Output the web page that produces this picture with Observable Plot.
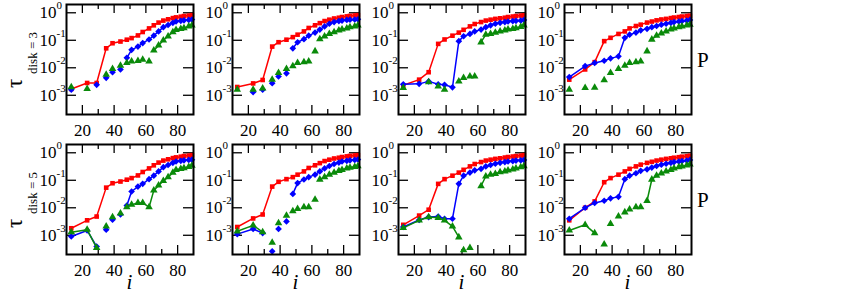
<!DOCTYPE html>
<html><head><meta charset="utf-8">
<script src="https://cdn.jsdelivr.net/npm/d3@7"></script>
<script src="https://cdn.jsdelivr.net/npm/@observablehq/plot@0.6"></script>
<style>
body{margin:0;background:#fff}
#chart{position:relative;width:863px;height:304px;overflow:hidden;font-family:"Liberation Serif",serif}
#chart svg{position:absolute}
</style>
</head><body><div id="chart"></div>
<script>
// ---- data ----
const iValues = [13, 23, 29, 35, 39, 44, 48, 51, 55, 58, 62, 65, 68, 71, 74, 77, 79, 82, 84, 87, 89];
const xTickValues = [20, 40, 60, 80];
const xMinorTickValues = [30, 50, 70];
const yTickValues = [1, 0.1, 0.01, 0.001];
const yTickExponents = ["0", "-1", "-2", "-3"];
const rowSubscripts = ["disk = 3", "disk = 5"];
const sideLabel = "P";
const xLabel = "i";

// row 1 (disk = 3)
const red1 = [1.7e-3, 2.8e-3, 2.8e-3, 0.051, 0.078, 0.09, 0.105, 0.12, 0.15, 0.2, 0.27, 0.35, 0.44, 0.52, 0.58, 0.64, 0.68, 0.72, 0.76, 0.79, 0.82];
const blue1 = [1.6e-3, null, 2.4e-3, 4.3e-3, 6.9e-3, 8.7e-3, 0.023, 0.045, 0.059, 0.079, 0.107, 0.147, 0.21, 0.3, 0.36, 0.43, 0.48, 0.51, 0.53, 0.55, 0.57];
const green1 = [2e-3, 1.7e-3, null, 5.7e-3, 9.1e-3, 0.012, 0.015, 0.017, 0.018, 0.02, 0.017, 0.043, 0.065, 0.1, 0.14, 0.2, 0.24, 0.26, 0.28, 0.32, 0.35];
const red1Runs = [[13, 89]], blue1Runs = [[48, 89]], green1Runs = [[65, 89]];

const red2 = [2e-3, 2.7e-3, 3.6e-3, 0.059, 0.085, 0.105, 0.13, 0.16, 0.21, 0.28, 0.35, 0.42, 0.5, 0.56, 0.62, 0.66, 0.7, 0.74, 0.77, 0.8, 0.82];
const blue2 = [null, 1.3e-3, 1.6e-3, 2.75e-3, 4.8e-3, 6.3e-3, 0.051, 0.085, 0.11, 0.147, 0.19, 0.245, 0.32, 0.4, 0.46, 0.5, 0.52, 0.55, 0.56, 0.57, 0.58];
const green2 = [1.6e-3, 1.6e-3, 1.8e-3, 3.7e-3, 6.6e-3, 9.1e-3, 0.0115, 0.015, 0.016, 0.017, 0.04, 0.11, 0.14, 0.17, 0.2, 0.23, 0.25, 0.27, 0.3, 0.32, 0.35];
const red2Runs = [[13, 89]], blue2Runs = [[48, 89]], green2Runs = [[65, 89]];

const red3 = [2.3e-3, 3.7e-3, 6.9e-3, 0.074, 0.107, 0.147, 0.19, 0.24, 0.32, 0.39, 0.46, 0.52, 0.56, 0.6, 0.63, 0.66, 0.7, 0.73, 0.76, 0.79, 0.81];
const blue3 = [2.5e-3, 2.6e-3, 3.2e-3, 2.5e-3, 2.4e-3, 1.95e-3, 0.093, 0.14, 0.17, 0.21, 0.245, 0.3, 0.35, 0.4, 0.43, 0.46, 0.48, 0.5, 0.51, 0.52, 0.55];
const green3 = [1.85e-3, null, 3e-3, 2.1e-3, 1.6e-3, null, 3.2e-3, 4.3e-3, 4.9e-3, 4.9e-3, 0.085, 0.16, 0.17, 0.19, 0.21, 0.23, 0.25, 0.26, 0.28, 0.31, 0.35];
const red3Runs = [[13, 89]], blue3Runs = [[13, 89]], green3Runs = [[62, 89]];

const red4 = [3.7e-3, 8.7e-3, 0.016, 0.093, 0.123, 0.17, 0.21, 0.27, 0.33, 0.37, 0.44, 0.48, 0.53, 0.57, 0.6, 0.64, 0.67, 0.7, 0.73, 0.76, 0.78];
const blue4 = [4.6e-3, 0.0115, 0.015, 0.018, 0.022, 0.026, 0.123, 0.16, 0.19, 0.23, 0.26, 0.3, 0.33, 0.37, 0.4, 0.43, 0.46, 0.48, 0.5, 0.52, 0.55];
const green4 = [1.6e-3, 1.85e-3, 1.9e-3, 3.6e-3, 6.6e-3, 9.1e-3, 0.012, 0.015, 0.016, 0.017, 0.04, 0.107, 0.147, 0.18, 0.21, 0.25, 0.27, 0.3, 0.32, 0.35, 0.37];
const red4Runs = [[13, 89]], blue4Runs = [[13, 89]], green4Runs = [[65, 89]];

// row 2 (disk = 5)
const red5 = [1.8e-3, 3.5e-3, 4.8e-3, 0.054, 0.078, 0.09, 0.105, 0.12, 0.15, 0.2, 0.27, 0.35, 0.44, 0.52, 0.58, 0.64, 0.68, 0.72, 0.76, 0.79, 0.82];
const blue5 = [9e-4, 1.5e-3, 3.9e-4, 1.6e-3, 3.7e-3, 5.7e-3, 0.012, 0.039, 0.059, 0.074, 0.11, 0.147, 0.21, 0.3, 0.36, 0.43, 0.48, 0.51, 0.53, 0.55, 0.56];
const green5 = [1.3e-3, 1.6e-3, 3.5e-4, 2.1e-3, 4.6e-3, 6.3e-3, 0.0105, 0.013, 0.015, 0.015, 0.0105, 0.043, 0.065, 0.095, 0.13, 0.19, 0.24, 0.26, 0.28, 0.31, 0.34];
const red5Runs = [[13, 89]], blue5Runs = [[13, 29], [48, 89]], green5Runs = [[13, 29], [48, 89]];

const red6 = [2e-3, 4.1e-3, 5.7e-3, 0.059, 0.088, 0.11, 0.13, 0.16, 0.21, 0.28, 0.35, 0.42, 0.5, 0.56, 0.62, 0.66, 0.7, 0.74, 0.77, 0.8, 0.82];
const blue6 = [1.1e-3, 1.7e-3, 1.2e-3, 2.6e-4, 1.7e-3, 3.2e-3, 0.032, 0.079, 0.107, 0.13, 0.16, 0.21, 0.27, 0.33, 0.39, 0.44, 0.48, 0.51, 0.53, 0.55, 0.57];
const green6 = [1.4e-3, 2.3e-3, 1.3e-3, 5.4e-4, 2.8e-3, 5.2e-3, 7.6e-3, 9.1e-3, 0.0105, 0.0105, 0.02, 0.107, 0.13, 0.16, 0.19, 0.22, 0.24, 0.27, 0.29, 0.31, 0.33];
const red6Runs = [[13, 89]], blue6Runs = [[13, 29], [48, 89]], green6Runs = [[13, 29], [65, 89]];

const red7 = [2.4e-3, 5.2e-3, 8.5e-3, 0.074, 0.11, 0.147, 0.19, 0.24, 0.32, 0.39, 0.46, 0.52, 0.56, 0.6, 0.63, 0.67, 0.7, 0.73, 0.76, 0.79, 0.82];
const blue7 = [2e-3, 3.6e-3, 4.6e-3, 4.8e-3, 4e-3, 4e-3, 0.074, 0.147, 0.19, 0.23, 0.26, 0.32, 0.36, 0.4, 0.43, 0.46, 0.48, 0.5, 0.52, 0.53, 0.55];
const green7 = [1.85e-3, 3.5e-3, 4.6e-3, 4.3e-3, 3.5e-3, 2.1e-3, 8.5e-4, 2.9e-4, 3.5e-4, null, 0.062, 0.14, 0.16, 0.17, 0.2, 0.21, 0.23, 0.25, 0.27, 0.3, 0.33];
const red7Runs = [[13, 89]], blue7Runs = [[13, 89]], green7Runs = [[13, 48], [62, 89]];

const red8 = [3.5e-3, 0.01, 0.017, 0.085, 0.12, 0.16, 0.21, 0.26, 0.32, 0.37, 0.43, 0.47, 0.52, 0.56, 0.6, 0.63, 0.66, 0.69, 0.72, 0.75, 0.78];
const blue8 = [4e-3, 0.01, 0.015, 0.018, 0.022, 0.025, 0.11, 0.147, 0.18, 0.22, 0.25, 0.29, 0.33, 0.37, 0.4, 0.43, 0.46, 0.48, 0.5, 0.52, 0.55];
const green8 = [1.5e-3, 2.4e-3, 1.2e-3, 4.7e-4, 2.6e-3, 4.9e-3, 6.9e-3, 8.7e-3, 0.0105, 0.0105, 0.018, 0.107, 0.147, 0.18, 0.21, 0.24, 0.27, 0.3, 0.32, 0.35, 0.38];
const red8Runs = [[13, 89]], blue8Runs = [[13, 89]], green8Runs = [[13, 29], [62, 89]];

// ---- panel table built from the arrays ----
const panels = [
  {row: 0, col: 0, red: red1, blue: blue1, green: green1, redRuns: red1Runs, blueRuns: blue1Runs, greenRuns: green1Runs},
  {row: 0, col: 1, red: red2, blue: blue2, green: green2, redRuns: red2Runs, blueRuns: blue2Runs, greenRuns: green2Runs},
  {row: 0, col: 2, red: red3, blue: blue3, green: green3, redRuns: red3Runs, blueRuns: blue3Runs, greenRuns: green3Runs},
  {row: 0, col: 3, red: red4, blue: blue4, green: green4, redRuns: red4Runs, blueRuns: blue4Runs, greenRuns: green4Runs},
  {row: 1, col: 0, red: red5, blue: blue5, green: green5, redRuns: red5Runs, blueRuns: blue5Runs, greenRuns: green5Runs},
  {row: 1, col: 1, red: red6, blue: blue6, green: green6, redRuns: red6Runs, blueRuns: blue6Runs, greenRuns: green6Runs},
  {row: 1, col: 2, red: red7, blue: blue7, green: green7, redRuns: red7Runs, blueRuns: blue7Runs, greenRuns: green7Runs},
  {row: 1, col: 3, red: red8, blue: blue8, green: green8, redRuns: red8Runs, blueRuns: blue8Runs, greenRuns: green8Runs},
];

// ---- styling / layout ----
const seriesStyle = [
  {key: "red", color: "#ff0000", symbol: "square", r: 2.6},
  {key: "blue", color: "#0000ff", symbol: "diamond2", r: 3.0},
  {key: "green", color: "#0a8a0a", symbol: "triangle", r: 2.8},
];
const FW = 127, FH = 110;          // frame size
const ML = 40, MR = 6, MT = 4, MB = 26;
const colLeft = [66, 232, 398, 564];
const rowTop = [4, 144];
const FONT = "'Liberation Serif', 'Times New Roman', serif";

const chart = document.getElementById("chart");

for (const p of panels) {
  const marks = [
    Plot.tickX(xTickValues, {x: d => d, insetTop: FH - 9, strokeWidth: 1.3}),
    Plot.tickX(xTickValues, {x: d => d, insetBottom: FH - 9, strokeWidth: 1.3}),
    Plot.tickX(xMinorTickValues, {x: d => d, insetTop: FH - 5, strokeWidth: 1.3}),
    Plot.tickX(xMinorTickValues, {x: d => d, insetBottom: FH - 5, strokeWidth: 1.3}),
    Plot.tickY(yTickValues, {y: d => d, insetRight: FW - 10, strokeWidth: 1.3}),
    Plot.tickY(yTickValues, {y: d => d, insetLeft: FW - 10, strokeWidth: 1.3}),
    Plot.axisX(xTickValues, {tickSize: 0, tickPadding: 9, fontSize: 17, fontFamily: FONT, fill: "#000", label: null}),
    Plot.text(yTickValues, {y: d => d, frameAnchor: "left", text: () => "10", textAnchor: "end", dx: -10, fontSize: 17, fontFamily: FONT, fill: "#000"}),
    Plot.text(yTickValues, {y: d => d, frameAnchor: "left", text: (d, k) => yTickExponents[k], textAnchor: "start", dx: -10, dy: -7, fontSize: 11, fontFamily: FONT, fill: "#000"}),
  ];
  for (const s of seriesStyle) {
    const vals = p[s.key], runs = p[s.key + "Runs"];
    const pts = [], segs = [];
    vals.forEach((v, k) => {
      if (v == null) return;
      const i = iValues[k];
      pts.push({i, v});
      runs.forEach((r, ri) => { if (i >= r[0] && i <= r[1]) segs.push({i, v, z: ri}); });
    });
    marks.push(Plot.line(segs, {x: "i", y: "v", z: "z", stroke: s.color, strokeWidth: 1.5}));
    marks.push(Plot.dot(pts, {x: "i", y: "v", symbol: () => s.symbol, fill: s.color, stroke: "none", r: s.r}));
  }
  marks.push(Plot.frame({stroke: "#000", strokeWidth: 2}));

  const svg = Plot.plot({
    width: ML + FW + MR, height: MT + FH + MB,
    marginLeft: ML, marginRight: MR, marginTop: MT, marginBottom: MB,
    x: {domain: [10, 90], label: null},
    y: {type: "log", domain: [2e-4, 2], axis: null},
    symbol: {type: "identity"},
    style: {background: "transparent", fontFamily: FONT, color: "#000", overflow: "visible"},
    marks
  });
  svg.style.left = (colLeft[p.col] - ML) + "px";
  svg.style.top = (rowTop[p.row] - MT) + "px";
  chart.appendChild(svg);
}

// overlay labels
const NS = "http://www.w3.org/2000/svg";
const ov = document.createElementNS(NS, "svg");
ov.setAttribute("width", 863); ov.setAttribute("height", 304);
ov.style.left = "0px"; ov.style.top = "0px";
ov.setAttribute("font-family", FONT);
function addText(txt, x, y, size, opts = {}) {
  const t = document.createElementNS(NS, "text");
  t.textContent = txt;
  t.setAttribute("font-size", size);
  t.setAttribute("fill", "#000");
  let tr = `translate(${x},${y})`;
  if (opts.rotate) tr += ` rotate(${opts.rotate})`;
  t.setAttribute("transform", tr);
  if (opts.anchor) t.setAttribute("text-anchor", opts.anchor);
  if (opts.italic) t.setAttribute("font-style", "italic");
  ov.appendChild(t);
}
rowTop.forEach((top, r) => {
  const off = top - 4;
  addText("τ", 22, 88 + off, 23, {rotate: -90});
  addText(rowSubscripts[r], 37, 74 + off, 13, {rotate: -90});
  addText(sideLabel, 697, 67 + off, 21);
});
colLeft.forEach(l => addText(xLabel, l + FW / 2, 289, 21, {italic: true, anchor: "middle"}));
chart.appendChild(ov);
</script>
</body></html>
